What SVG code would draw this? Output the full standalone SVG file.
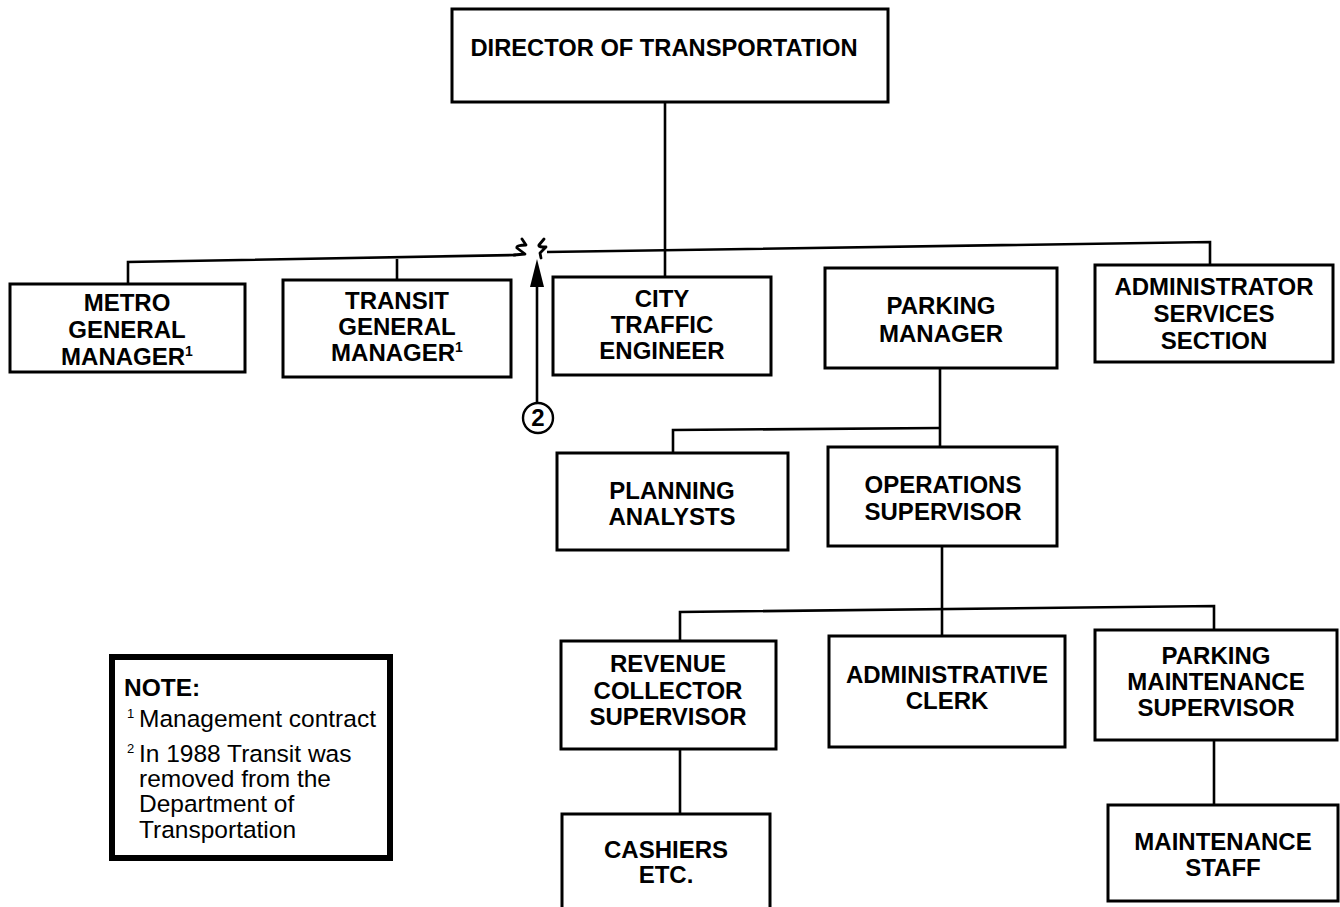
<svg xmlns="http://www.w3.org/2000/svg" width="1340" height="907" viewBox="0 0 1340 907">
  <style>
    .box { fill: #fff; stroke: #000; stroke-width: 3; }
    .lbl { font-family: "Liberation Sans", Arial, sans-serif; font-weight: bold; font-size: 24px; text-anchor: middle; fill: #000; }
    .sup { font-size: 14px; }
    .wire { fill: none; stroke: #000; stroke-width: 2.6; }
    .brk { fill: none; stroke: #000; stroke-width: 2.8; stroke-linejoin: round; stroke-linecap: round; }
    .note { font-family: "Liberation Sans", Arial, sans-serif; font-size: 24.5px; fill: #000; }
  </style>

  <rect width="1340" height="907" fill="#fff"/>

  <!-- connectors -->
  <g id="connectors" class="wire">
    <path d="M665,102 V277"/>
    <path d="M128,284 V262 L516,255"/>
    <path d="M397,259 V280"/>
    <path d="M547,252 L1210,242 V265"/>
    <!-- break marks on the top bus -->
    <path class="brk" d="M514,255 L525,254 L517,248 C516,246 520,245 526,245 L522,239"/>
    <path class="brk" d="M544,239 L539,245 C538,247 542,247 546,247 L540,253 L541,258"/>
    <!-- Parking manager branch -->
    <path d="M940,368 V447"/>
    <path d="M673,453 V430 L940,428"/>
    <!-- Operations supervisor branch -->
    <path d="M942,546 V636"/>
    <path d="M680,641 V612 L1214,606 V630"/>
    <path d="M680,749 V814"/>
    <path d="M1214,740 V805"/>
  </g>

  <!-- footnote marker arrow -->
  <g id="marker-2">
    <line x1="537" y1="402" x2="537" y2="282" stroke="#000" stroke-width="2.6"/>
    <polygon points="537,259 530,287 544,287" fill="#000"/>
    <circle cx="538" cy="418" r="15" fill="#fff" stroke="#000" stroke-width="2.4"/>
    <text x="538" y="426" class="lbl" font-size="22">2</text>
  </g>

  <g id="director">
    <rect class="box" x="452" y="9" width="436" height="93"/>
    <text class="lbl" x="664" y="56" textLength="387" lengthAdjust="spacingAndGlyphs">DIRECTOR OF TRANSPORTATION</text>
  </g>

  <g id="metro-gm">
    <rect class="box" x="10" y="284" width="235" height="88"/>
    <text class="lbl" x="127" y="311">METRO</text>
    <text class="lbl" x="127" y="338">GENERAL</text>
    <text class="lbl" x="127" y="365">MANAGER<tspan class="sup" dy="-9">1</tspan></text>
  </g>

  <g id="transit-gm">
    <rect class="box" x="283" y="280" width="228" height="97"/>
    <text class="lbl" x="397" y="309">TRANSIT</text>
    <text class="lbl" x="397" y="335">GENERAL</text>
    <text class="lbl" x="397" y="361">MANAGER<tspan class="sup" dy="-9">1</tspan></text>
  </g>

  <g id="city-traffic-engineer">
    <rect class="box" x="553" y="277" width="218" height="98"/>
    <text class="lbl" x="662" y="307">CITY</text>
    <text class="lbl" x="662" y="333">TRAFFIC</text>
    <text class="lbl" x="662" y="359">ENGINEER</text>
  </g>

  <g id="parking-manager">
    <rect class="box" x="825" y="268" width="232" height="100"/>
    <text class="lbl" x="941" y="314">PARKING</text>
    <text class="lbl" x="941" y="342">MANAGER</text>
  </g>

  <g id="admin-services">
    <rect class="box" x="1095" y="265" width="238" height="97"/>
    <text class="lbl" x="1214" y="295">ADMINISTRATOR</text>
    <text class="lbl" x="1214" y="322">SERVICES</text>
    <text class="lbl" x="1214" y="349">SECTION</text>
  </g>

  <g id="planning-analysts">
    <rect class="box" x="557" y="453" width="231" height="97"/>
    <text class="lbl" x="672" y="499">PLANNING</text>
    <text class="lbl" x="672" y="525">ANALYSTS</text>
  </g>

  <g id="operations-supervisor">
    <rect class="box" x="828" y="447" width="229" height="99"/>
    <text class="lbl" x="943" y="493">OPERATIONS</text>
    <text class="lbl" x="943" y="520">SUPERVISOR</text>
  </g>

  <g id="revenue-collector">
    <rect class="box" x="561" y="641" width="215" height="108"/>
    <text class="lbl" x="668" y="672">REVENUE</text>
    <text class="lbl" x="668" y="699">COLLECTOR</text>
    <text class="lbl" x="668" y="725">SUPERVISOR</text>
  </g>

  <g id="admin-clerk">
    <rect class="box" x="829" y="636" width="236" height="111"/>
    <text class="lbl" x="947" y="683">ADMINISTRATIVE</text>
    <text class="lbl" x="947" y="709">CLERK</text>
  </g>

  <g id="parking-maintenance">
    <rect class="box" x="1095" y="630" width="242" height="110"/>
    <text class="lbl" x="1216" y="664">PARKING</text>
    <text class="lbl" x="1216" y="690">MAINTENANCE</text>
    <text class="lbl" x="1216" y="716">SUPERVISOR</text>
  </g>

  <g id="cashiers">
    <rect class="box" x="562" y="814" width="208" height="100"/>
    <text class="lbl" x="666" y="858">CASHIERS</text>
    <text class="lbl" x="666" y="883">ETC.</text>
  </g>

  <g id="maintenance-staff">
    <rect class="box" x="1108" y="805" width="230" height="96"/>
    <text class="lbl" x="1223" y="850">MAINTENANCE</text>
    <text class="lbl" x="1223" y="876">STAFF</text>
  </g>

  <g id="note">
    <rect x="112" y="657" width="278" height="201" fill="#fff" stroke="#000" stroke-width="6"/>
    <text class="note" x="124" y="696" font-weight="bold">NOTE:</text>
    <text class="note" x="127" y="727"><tspan font-size="13" dy="-9">1</tspan><tspan x="139" dy="9">Management contract</tspan></text>
    <text class="note" x="127" y="762"><tspan font-size="13" dy="-9">2</tspan><tspan x="139" dy="9">In 1988 Transit was</tspan></text>
    <text class="note" x="139" y="787">removed from the</text>
    <text class="note" x="139" y="812">Department of</text>
    <text class="note" x="139" y="838">Transportation</text>
  </g>
</svg>
